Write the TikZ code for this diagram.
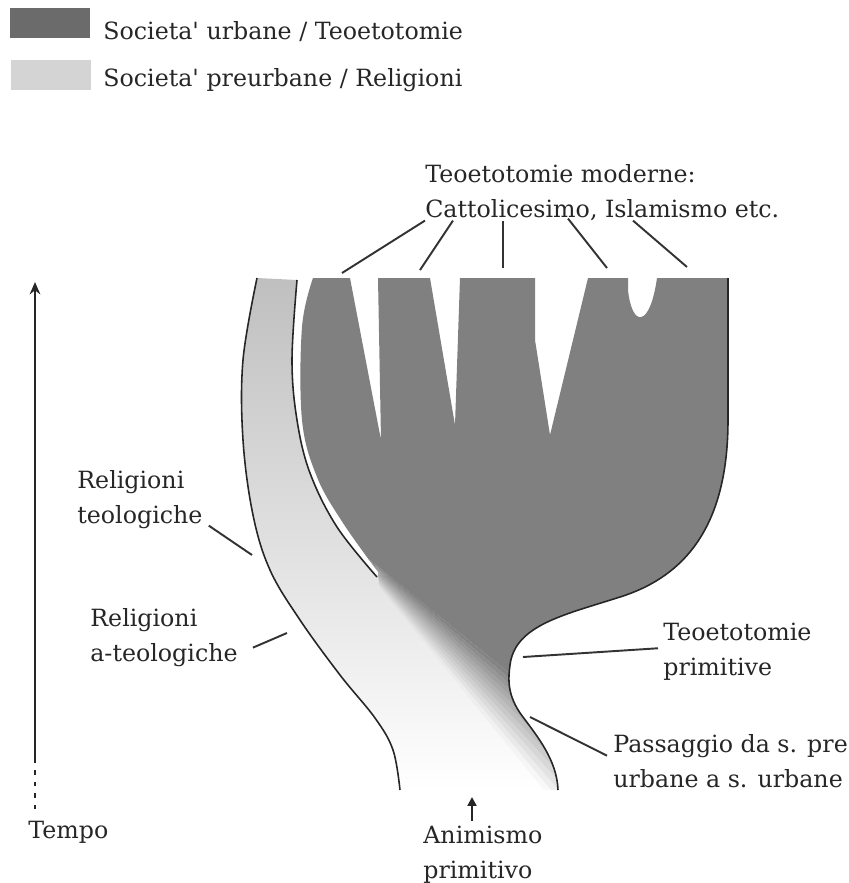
\documentclass[tikz,border=0pt]{standalone}
\usepackage{fontspec}
\setmainfont{DejaVu Serif}
\usetikzlibrary{arrows.meta,calc}
\colorlet{urbcol}{black!50}
\colorlet{precol}{black!17}
% right rim of the urban body, down to the bottom of the trunk
\newcommand\urbrim{-- (728,420) .. controls (728,520) and (690,575) .. (620,597)
  .. controls (564,615) and (515,625) .. (510,665)
  .. controls (508.5,677) and (506,695) .. (523,717)
  .. controls (537,736) and (557,760) .. (558,790)}

\begin{document}
\begin{tikzpicture}[x=0.02cm, y=-0.02cm,
    every node/.style={font=\fontsize{13.5}{19.9}\selectfont, text=black!85, inner sep=0pt, align=left},
    swatch/.style={minimum width=1.6cm, minimum height=0.6cm},
    leader/.style={line width=1.1pt, black!80},
    edgeline/.style={line width=0.9pt, black!85}]
\useasboundingbox (0,0) rectangle (849,883);

% legend
\node[swatch, fill=black!58] (swurb) at (50,23) {};
\node[swatch, fill=precol] (swpre) at (51,75) {};
\node[anchor=base west] (legurb) at (103,39) {Societa\textquotesingle\ urbane / Teoetotomie};
\node[anchor=base west] (legpre) at (103,86) {Societa\textquotesingle\ preurbane / Religioni};

% preurban band
\shade[top color=black!25, middle color=black!12, bottom color=white]
  plot[smooth, tension=0.6] coordinates {(257,278) (243,360) (243,440) (253,515) (270,570) (300,620) (340,675) (375,718) (393,750) (400,790)}
  -- (558,790) .. controls (557,760) and (537,736) .. (523,717) .. controls (506,695) and (508.5,677) .. (510,665)
  -- (470,600) -- (378,574)
  -- plot[smooth, tension=0.6] coordinates {(377,577) (337,527) (310,473) (297,420) (292,360) (297,280)} -- cycle;

% urban body, fading out towards the lower left
\coordinate (pivot) at (334.1,531.1);
\begin{scope}
  \clip (313,278) -- (350,278) -- (381,440) -- (378,278) -- (430,278) -- (455,425) -- (460,278)
    -- (535,278) -- (535,340) -- (550,435) -- (588,278) -- (628,278) -- (628,290)
    .. controls (632,328) and (650,328) .. (657,278) -- (728,278) \urbrim
    -- (400,790) -- (378,574)
    -- plot[smooth, tension=0.6] coordinates {(378,572) (343,523) (317,477) (302,420) (302,327) (313,278)} -- cycle;
  \fill[urbcol] (pivot) -- ($(pivot)+(39:600)$) -- ($(pivot)+(-10:600)$) -- ($(pivot)+(-60:600)$)
    -- ($(pivot)+(-110:600)$) -- ($(pivot)+(-137.06:600)$) -- cycle;
  \foreach \a [evaluate=\a as \o using {(50.5-\a)/12}] in {39,40,...,50}
    \fill[urbcol, opacity=\o] (pivot) -- ($(pivot)+(\a:600)$) -- ($(pivot)+(\a+1:600)$) -- cycle;
\end{scope}

% outlines
\draw[edgeline] plot[smooth, tension=0.6] coordinates {(257,278) (243,360) (243,440) (253,515) (270,570) (300,620) (340,675) (375,718) (393,750) (400,790)};
\draw[edgeline] plot[smooth, tension=0.6] coordinates {(297,280) (292,360) (297,420) (310,473) (337,527) (377,577)};
\draw[edgeline] (728,278) \urbrim;

% labels
\node[anchor=base west] (modlbl) at (425,217) {Teoetotomie moderne:\\Cattolicesimo, Islamismo etc.};
\node[anchor=base west] (relteo) at (77,523) {Religioni\\teologiche};
\node[anchor=base west] (relateo) at (90,661) {Religioni\\a-teologiche};
\node[anchor=base west] (tprim) at (663,675) {Teoetotomie\\primitive};
\node[anchor=base west] (passlbl) at (613,787) {Passaggio da s. pre\\urbane a s. urbane};
\node[anchor=base west] (anim) at (423,878) {Animismo\\primitivo};
\node[anchor=base west] (tempo) at (28,838) {Tempo};

\coordinate (tineA) at (342,273);
\coordinate (tineB) at (420,270);
\coordinate (tineC) at (503,268);
\coordinate (tineD) at (607,268);
\coordinate (tineE) at (687,267);
\coordinate (teotip) at (252,555);
\coordinate (ateotip) at (287,633);
\coordinate (primtip) at (523,657);
\coordinate (passtip) at (530,717);
\coordinate (animtip) at (472,797);
\coordinate (tbot) at (35,762);
\coordinate (ttop) at (35,282);
\coordinate (tdots) at (35,809);

% leaders
\draw[leader] ($(modlbl.south west)+(0,0)$) -- (tineA);
\draw[leader] ($(modlbl.south west)+(28,0)$) -- (tineB);
\draw[leader] ($(modlbl.south west)+(78,0)$) -- (tineC);
\draw[leader] ($(modlbl.south west)+(143,-2)$) -- (tineD);
\draw[leader] ($(modlbl.south west)+(208,0)$) -- (tineE);
\draw[leader] ($(relteo.south east)+(6,-3)$) -- (teotip);
\draw[leader] ($(relateo.south east)+(15,-19)$) -- (ateotip);
\draw[leader] ($(tprim.west)+(-5,-3)$) -- (primtip);
\draw[leader] ($(passlbl.west)+(-6,-5)$) -- (passtip);
\draw[line width=1.3pt, black!85, -{Triangle[length=5pt, width=5pt]}] ($(anim.north west)+(49,-4)$) -- (animtip);

% time axis
\draw[line width=1.6pt, black!85, -{Stealth[length=7pt, width=6pt]}] (tbot) -- (ttop);
\draw[line width=1.6pt, black!85, dash pattern=on 2.5pt off 4pt] (tdots) -- (tbot);
\end{tikzpicture}
\end{document}
